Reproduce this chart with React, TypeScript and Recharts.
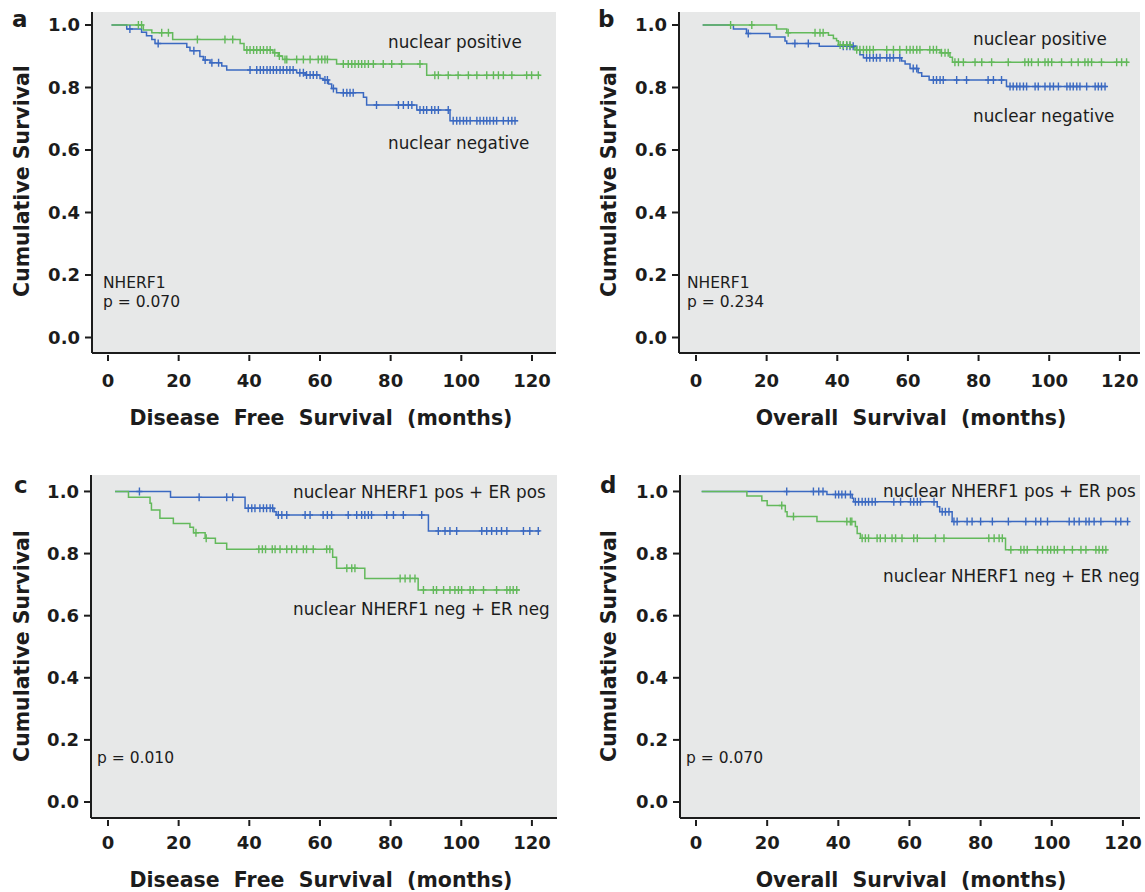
import React from 'react';
import { ComposedChart, Line, Scatter, XAxis, YAxis, CartesianGrid, Customized } from 'recharts';

type Step = [number, number];

const GREEN = '#63b95b';
const BLUE = '#3b69c1';
const INK = '#1c1c1c';
const FONT = '"DejaVu Sans", "Liberation Sans", sans-serif';

const monthTicks = [0, 20, 40, 60, 80, 100, 120];
const survivalTicks = [0, 0.2, 0.4, 0.6, 0.8, 1.0];

// a: disease free survival, nuclear NHERF1 positive / negative
const aPosSteps: Step[] = [[1, 1], [10, 0.984], [12.4, 0.975], [18.3, 0.954], [37.4, 0.941], [38.5, 0.92], [46.7, 0.911], [48.2, 0.901], [49.4, 0.89], [64.7, 0.875], [90.2, 0.839]];
const aPosEnd = 122.3;
const aPosCens = [8.6, 9.5, 15.2, 17.1, 25.3, 33.1, 35.3, 39.3, 40.2, 41.2, 42.1, 43.1, 44.0, 45.0, 45.9, 47.2, 48.5, 50.1, 50.6, 53.4, 55.3, 57.2, 59.5, 60.5, 61.4, 62.1, 66.6, 68.0, 69.0, 69.9, 70.9, 71.8, 72.7, 73.7, 75.1, 77.9, 80.3, 83.1, 88.3, 92.5, 93.5, 96.3, 99.1, 102.0, 104.4, 107.2, 109.1, 110.5, 111.9, 114.3, 118.5, 119.9, 121.8];
const aNegSteps: Step[] = [[1, 1], [5.3, 0.987], [9.5, 0.977], [10.9, 0.966], [12.4, 0.954], [13.3, 0.941], [22.3, 0.929], [23.2, 0.918], [26.0, 0.899], [27.0, 0.888], [28.9, 0.879], [32.2, 0.869], [33.6, 0.856], [53.4, 0.847], [55.8, 0.84], [60.0, 0.829], [60.9, 0.824], [62.4, 0.811], [63.3, 0.797], [64.7, 0.783], [72.3, 0.769], [73.2, 0.744], [87.4, 0.728], [96.8, 0.694]];
const aNegEnd = 116.1;
const aNegCens = [6.2, 14.2, 24.3, 27.5, 29.4, 31.3, 40.2, 42.1, 43.1, 44.0, 45.0, 45.9, 46.8, 47.7, 48.7, 49.6, 50.6, 51.5, 52.4, 54.3, 55.3, 56.2, 57.2, 58.1, 59.1, 61.4, 62.1, 63.8, 66.6, 67.6, 68.5, 69.4, 76.0, 82.2, 83.6, 85.0, 86.0, 88.3, 89.3, 90.2, 91.6, 92.5, 93.5, 96.3, 97.7, 98.7, 99.6, 100.6, 101.5, 102.5, 104.4, 105.3, 106.3, 107.2, 108.1, 109.1, 110.0, 111.9, 113.3, 114.3, 115.2];

// b: overall survival, nuclear NHERF1 positive / negative
const bPosSteps: Step[] = [[1.9, 1], [22.8, 0.987], [25.7, 0.975], [37.5, 0.967], [38.9, 0.957], [39.8, 0.95], [40.3, 0.936], [44.1, 0.929], [45.0, 0.921], [69.1, 0.911], [71.9, 0.897], [72.6, 0.881]];
const bPosEnd = 122.4;
const bPosCens = [9.8, 15.8, 26.1, 33.7, 35.1, 36.0, 40.8, 41.7, 42.7, 43.6, 45.5, 46.4, 47.4, 48.3, 49.2, 50.2, 54.0, 55.9, 57.7, 59.6, 60.6, 61.5, 62.5, 63.4, 66.2, 67.2, 68.1, 69.5, 70.5, 71.4, 73.3, 74.3, 75.7, 79.0, 80.9, 83.7, 88.4, 93.1, 94.1, 95.0, 96.9, 98.8, 99.7, 100.7, 103.5, 106.3, 108.2, 110.1, 111.0, 112.0, 114.8, 119.1, 120.5, 121.9];
const bNegSteps: Step[] = [[1.9, 1], [10.6, 0.987], [14.3, 0.973], [20.9, 0.962], [25.2, 0.949], [25.7, 0.941], [34.9, 0.932], [45.5, 0.921], [46.4, 0.905], [47.4, 0.895], [58.2, 0.885], [59.2, 0.875], [60.6, 0.861], [62.9, 0.847], [63.9, 0.836], [66.0, 0.824], [87.9, 0.803]];
const bNegEnd = 116.2;
const bNegCens = [14.8, 28.0, 31.8, 41.7, 42.7, 43.6, 44.5, 48.3, 49.2, 50.2, 51.1, 52.1, 54.0, 54.9, 55.9, 57.7, 61.5, 62.5, 67.2, 68.1, 69.1, 70.0, 73.8, 76.6, 82.7, 84.2, 86.5, 88.9, 89.8, 90.8, 91.7, 92.7, 93.6, 96.0, 96.9, 98.8, 100.2, 101.2, 102.6, 105.0, 105.9, 106.8, 107.8, 108.7, 110.6, 113.0, 113.9, 114.8, 115.8];

// c: disease free survival, NHERF1 pos + ER pos / NHERF1 neg + ER neg
const cPosSteps: Step[] = [[2, 1], [17.7, 0.981], [38.8, 0.946], [47.0, 0.935], [47.6, 0.924], [90.7, 0.873]];
const cPosEnd = 122.3;
const cPosCens = [8.9, 25.8, 33.6, 35.3, 39.7, 40.7, 41.6, 43.0, 44.0, 44.9, 45.9, 46.6, 48.2, 49.2, 50.6, 55.8, 57.2, 60.9, 62.1, 63.3, 68.0, 70.4, 71.8, 72.7, 73.7, 74.6, 78.9, 80.8, 83.6, 88.8, 93.5, 95.4, 96.8, 98.7, 105.8, 107.2, 108.6, 110.0, 111.4, 112.9, 117.6, 119.4, 121.8];
const cNegSteps: Step[] = [[2, 1], [5.8, 0.981], [11.9, 0.962], [12.3, 0.94], [14.7, 0.914], [18.5, 0.897], [23.2, 0.885], [24.2, 0.867], [27.5, 0.849], [30.4, 0.833], [33.6, 0.814], [63.6, 0.788], [64.7, 0.753], [72.7, 0.72], [87.8, 0.683]];
const cNegEnd = 116.6;
const cNegCens = [24.9, 27.8, 42.7, 43.7, 44.6, 46.5, 47.3, 48.7, 50.6, 52.0, 53.4, 55.3, 56.2, 58.1, 61.9, 62.8, 67.6, 69.0, 69.9, 82.7, 84.1, 85.5, 86.9, 89.3, 92.1, 93.0, 95.0, 96.8, 98.2, 99.2, 100.1, 102.5, 103.4, 106.3, 110.0, 112.9, 113.8, 114.7, 115.7];

// d: overall survival, NHERF1 pos + ER pos / NHERF1 neg + ER neg
const dPosSteps: Step[] = [[1.6, 1], [36.8, 0.99], [43.9, 0.978], [44.3, 0.967], [67.8, 0.951], [68.5, 0.935], [72.0, 0.903]];
const dPosEnd = 121.8;
const dPosCens = [25.5, 33.0, 34.5, 35.7, 39.2, 40.1, 41.0, 42.0, 43.4, 44.8, 45.7, 46.7, 47.6, 48.5, 49.5, 50.4, 55.6, 57.5, 60.3, 61.2, 62.2, 63.1, 66.9, 69.2, 70.1, 71.1, 72.5, 73.4, 76.2, 77.6, 80.0, 83.3, 87.8, 92.7, 95.5, 96.9, 98.8, 104.9, 106.3, 107.7, 109.6, 110.5, 111.9, 113.8, 118.0, 119.4, 121.3];
const dNegSteps: Step[] = [[1.6, 1], [14.3, 0.985], [18.5, 0.97], [20.0, 0.955], [25.1, 0.935], [25.6, 0.919], [34.0, 0.903], [44.8, 0.887], [45.3, 0.865], [46.2, 0.849], [87.0, 0.812]];
const dNegEnd = 115.7;
const dNegCens = [24.1, 27.4, 42.4, 43.4, 43.8, 46.7, 47.6, 48.5, 50.9, 51.8, 53.2, 55.1, 56.1, 57.9, 61.2, 62.2, 67.3, 69.7, 82.3, 83.8, 85.2, 86.1, 88.5, 91.3, 92.2, 93.1, 96.0, 97.4, 98.8, 99.7, 100.7, 101.6, 103.5, 105.8, 108.2, 109.6, 112.4, 113.3, 114.3, 115.2];

const survivalAt = (steps: Step[], t: number) => {
  let s = steps[0][1];
  for (const [st, sv] of steps) if (st <= t) s = sv;
  return s;
};
const curve = (steps: Step[], end: number) =>
  [...steps.map(([t, s]) => ({ t, s })), { t: end, s: steps[steps.length - 1][1] }];
const marks = (steps: Step[], cens: number[]) => cens.map((t) => ({ t, s: survivalAt(steps, t) }));

interface Note { text: string; x: number; y: number; size: number }
interface Series { steps: Step[]; end: number; cens: number[]; color: string }
interface Panel {
  letter: string; left: number; top: number; width: number; height: number;
  plot: [number, number, number, number];
  xDomain: [number, number]; yDomain: [number, number];
  tickDy: number; xTitle: string; xTitlePos: [number, number]; yTitlePos: [number, number];
  letterPos: [number, number]; notes: Note[]; series: Series[];
}

const panels: Panel[] = [
  {
    letter: 'a', left: 0, top: 0, width: 575, height: 440, plot: [92, 12, 556, 353],
    xDomain: [-4.53, 126.8], yDomain: [-0.0496, 1.0416], tickDy: 34,
    xTitle: 'Disease  Free  Survival  (months)', xTitlePos: [321, 425], yTitlePos: [29, 181], letterPos: [12, 27],
    notes: [
      { text: 'nuclear positive', x: 388, y: 48, size: 16.8 },
      { text: 'nuclear negative', x: 388, y: 149, size: 16.8 },
      { text: 'NHERF1', x: 103, y: 288, size: 15.5 },
      { text: 'p = 0.070', x: 103, y: 307, size: 15.5 },
    ],
    series: [
      { steps: aNegSteps, end: aNegEnd, cens: aNegCens, color: BLUE },
      { steps: aPosSteps, end: aPosEnd, cens: aPosCens, color: GREEN },
    ],
  },
  {
    letter: 'b', left: 587, top: 0, width: 558, height: 440, plot: [92, 12, 553, 353],
    xDomain: [-4.81, 125.7], yDomain: [-0.0496, 1.0416], tickDy: 34,
    xTitle: 'Overall  Survival  (months)', xTitlePos: [911, 425], yTitlePos: [616, 181], letterPos: [598, 27],
    notes: [
      { text: 'nuclear positive', x: 973, y: 45, size: 16.8 },
      { text: 'nuclear negative', x: 973, y: 122, size: 16.8 },
      { text: 'NHERF1', x: 687, y: 288, size: 15.5 },
      { text: 'p = 0.234', x: 687, y: 307, size: 15.5 },
    ],
    series: [
      { steps: bNegSteps, end: bNegEnd, cens: bNegCens, color: BLUE },
      { steps: bPosSteps, end: bPosEnd, cens: bPosCens, color: GREEN },
    ],
  },
  {
    letter: 'c', left: 0, top: 460, width: 575, height: 432, plot: [91, 15, 557, 358],
    xDomain: [-4.81, 127.1], yDomain: [-0.0515, 1.053], tickDy: 31,
    xTitle: 'Disease  Free  Survival  (months)', xTitlePos: [321, 887], yTitlePos: [29, 646], letterPos: [14, 493],
    notes: [
      { text: 'nuclear NHERF1 pos + ER pos', x: 293, y: 498, size: 16.8 },
      { text: 'nuclear NHERF1 neg + ER neg', x: 293, y: 615, size: 16.8 },
      { text: 'p = 0.010', x: 97, y: 763, size: 15.5 },
    ],
    series: [
      { steps: cPosSteps, end: cPosEnd, cens: cPosCens, color: BLUE },
      { steps: cNegSteps, end: cNegEnd, cens: cNegCens, color: GREEN },
    ],
  },
  {
    letter: 'd', left: 587, top: 460, width: 558, height: 432, plot: [93, 15, 553, 358],
    xDomain: [-4.5, 124.8], yDomain: [-0.0515, 1.053], tickDy: 31,
    xTitle: 'Overall  Survival  (months)', xTitlePos: [911, 887], yTitlePos: [616, 646], letterPos: [600, 493],
    notes: [
      { text: 'nuclear NHERF1 pos + ER pos', x: 883, y: 497, size: 16.8 },
      { text: 'nuclear NHERF1 neg + ER neg', x: 883, y: 582, size: 16.8 },
      { text: 'p = 0.070', x: 686, y: 763, size: 15.5 },
    ],
    series: [
      { steps: dPosSteps, end: dPosEnd, cens: dPosCens, color: BLUE },
      { steps: dNegSteps, end: dNegEnd, cens: dNegCens, color: GREEN },
    ],
  },
];

const X_AXIS_H = 50;
const Y_AXIS_W = 60;

const XTick = (props: any) => {
  const { x, y, payload, dy } = props;
  return (
    <g>
      <line x1={x} x2={x} y1={y + 2} y2={y + 8} stroke={INK} strokeWidth={2} />
      <text x={x} y={y + dy} textAnchor="middle" fontFamily={FONT} fontWeight="bold" fontSize={18} fill={INK}>
        {payload.value}
      </text>
    </g>
  );
};

const censorShape = (color: string) => (props: any) => {
  const { cx, cy } = props;
  return (
    <path d={`M${cx},${cy - 4}V${cy + 4}M${cx - 3},${cy}H${cx + 3}`} stroke={color} strokeWidth={1.4} fill="none" />
  );
};

function KMPanel({ p }: { p: Panel }) {
  const [pl, pt, pr, pb] = p.plot;
  const ox = p.left;
  const oy = p.top;
  const Annotations = () => (
    <g fontFamily={FONT} fill={INK}>
      <text x={p.letterPos[0] - ox} y={p.letterPos[1] - oy} fontSize={23} fontWeight="bold">{p.letter}</text>
      <text x={p.xTitlePos[0] - ox} y={p.xTitlePos[1] - oy} fontSize={20.5} fontWeight="bold" textAnchor="middle" style={{ whiteSpace: 'pre' }}>
        {p.xTitle}
      </text>
      <text
        x={p.yTitlePos[0] - ox}
        y={p.yTitlePos[1] - oy}
        fontSize={20.5}
        fontWeight="bold"
        textAnchor="middle"
        transform={`rotate(-90, ${p.yTitlePos[0] - ox}, ${p.yTitlePos[1] - oy})`}
      >
        Cumulative Survival
      </text>
      {p.notes.map((n) => (
        <text key={n.text} x={n.x - ox} y={n.y - oy} fontSize={n.size}>{n.text}</text>
      ))}
    </g>
  );
  return (
    <div style={{ position: 'absolute', left: p.left, top: p.top, width: p.width, height: p.height }}>
      <ComposedChart
        width={p.width}
        height={p.height}
        margin={{ top: pt, right: p.width - pr, bottom: p.height - pb - X_AXIS_H, left: pl - Y_AXIS_W }}
      >
        <CartesianGrid fill="#e7e8e8" fillOpacity={1} stroke="none" horizontal={false} vertical={false} />
        <XAxis
          type="number"
          dataKey="t"
          domain={p.xDomain}
          allowDataOverflow
          ticks={monthTicks}
          height={X_AXIS_H}
          tickSize={0}
          tickMargin={0}
          tickLine={false}
          axisLine={{ stroke: INK, strokeWidth: 2 }}
          tick={<XTick dy={p.tickDy} />}
          interval={0}
        />
        <YAxis
          type="number"
          dataKey="s"
          domain={p.yDomain}
          allowDataOverflow
          ticks={survivalTicks}
          width={Y_AXIS_W}
          tickSize={7}
          tickMargin={5}
          interval={0}
          tickFormatter={(v: number) => v.toFixed(1)}
          axisLine={{ stroke: INK, strokeWidth: 2 }}
          tickLine={{ stroke: INK, strokeWidth: 2 }}
          tick={{ fontFamily: FONT, fontWeight: 'bold', fontSize: 18, fill: INK }}
        />
        {p.series.map((s, i) => (
          <Line
            key={`l${i}`}
            data={curve(s.steps, s.end)}
            dataKey="s"
            type="stepAfter"
            stroke={s.color}
            strokeWidth={1.5}
            dot={false}
            activeDot={false}
            isAnimationActive={false}
          />
        ))}
        {p.series.map((s, i) => (
          <Scatter
            key={`c${i}`}
            data={marks(s.steps, s.cens)}
            dataKey="s"
            shape={censorShape(s.color)}
            isAnimationActive={false}
          />
        ))}
        <Customized component={Annotations} />
      </ComposedChart>
    </div>
  );
}

export default function App() {
  return (
    <div style={{ position: 'absolute', left: 0, top: 0, width: 1145, height: 892, background: '#fff' }}>
      {panels.map((p) => (
        <KMPanel key={p.letter} p={p} />
      ))}
    </div>
  );
}
